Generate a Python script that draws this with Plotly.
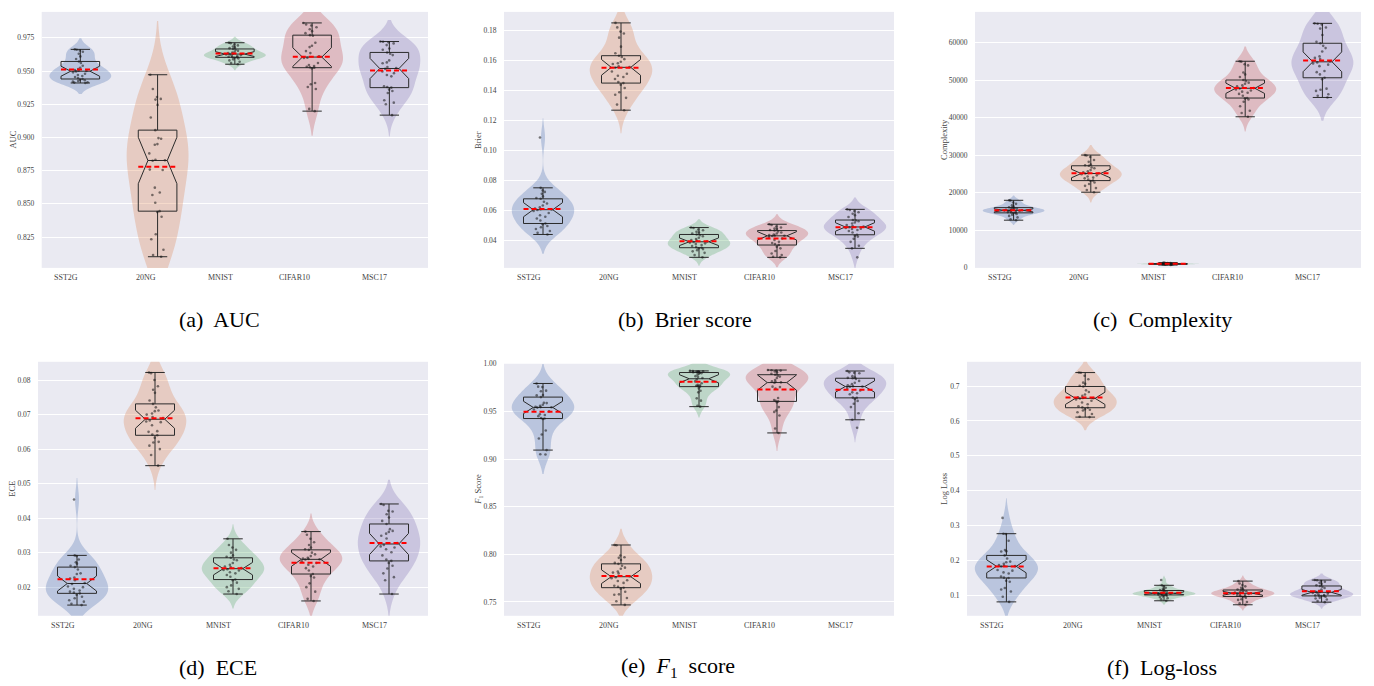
import numpy as np
import plotly.graph_objects as go

datasets = ["SST2G", "20NG", "MNIST", "CIFAR10", "MSC17"]

# ---------------- AUC ----------------
auc_sst2g = [0.9663, 0.9660, 0.9655, 0.9645, 0.9630, 0.9610, 0.9590, 0.9572, 0.9560, 0.9540,
             0.9525, 0.9515, 0.9508, 0.9503, 0.9500, 0.9497, 0.9490, 0.9480, 0.9470, 0.9462,
             0.9455, 0.9448, 0.9440, 0.9435, 0.9430, 0.9425, 0.9420, 0.9416, 0.9413, 0.9410]
auc_20ng = [0.9472, 0.9365, 0.9305, 0.9290, 0.9285, 0.9245, 0.9150, 0.9055, 0.8995, 0.8990,
            0.8950, 0.8945, 0.8880, 0.8832, 0.8828, 0.8825, 0.8758, 0.8755, 0.8622, 0.8585,
            0.8567, 0.8508, 0.8445, 0.8438, 0.8403, 0.8271, 0.8234, 0.8155, 0.8115, 0.8102]
auc_mnist = [0.9713, 0.9710, 0.9700, 0.9693, 0.9685, 0.9678, 0.9672, 0.9666, 0.9660, 0.9652,
             0.9645, 0.9640, 0.9635, 0.9630, 0.9628, 0.9627, 0.9625, 0.9620, 0.9615, 0.9612,
             0.9608, 0.9605, 0.9603, 0.9600, 0.9595, 0.9588, 0.9580, 0.9570, 0.9560, 0.9551]
auc_cifar10 = [0.9862, 0.9850, 0.9843, 0.9830, 0.9815, 0.9800, 0.9785, 0.9770, 0.9765, 0.9713,
               0.9690, 0.9680, 0.9650, 0.9635, 0.9610, 0.9600, 0.9598, 0.9560, 0.9545, 0.9538,
               0.9532, 0.9528, 0.9525, 0.9520, 0.9410, 0.9400, 0.9380, 0.9365, 0.9215, 0.9198]
auc_msc17 = [0.9722, 0.9720, 0.9716, 0.9708, 0.9695, 0.9670, 0.9660, 0.9640, 0.9630, 0.9620,
             0.9580, 0.9565, 0.9558, 0.9530, 0.9522, 0.9516, 0.9497, 0.9484, 0.9470, 0.9460,
             0.9385, 0.9380, 0.9375, 0.9360, 0.9350, 0.9335, 0.9280, 0.9262, 0.9250, 0.9168]

# ---------------- Brier ----------------
brier_sst2g = [0.1086, 0.0752, 0.0735, 0.0725, 0.0712, 0.0695, 0.0684, 0.0679, 0.0660, 0.0648,
               0.0635, 0.0622, 0.0615, 0.0610, 0.0608, 0.0605, 0.0598, 0.0585, 0.0570, 0.0560,
               0.0548, 0.0535, 0.0515, 0.0510, 0.0498, 0.0490, 0.0478, 0.0465, 0.0453, 0.0442]
brier_20ng = [0.1848, 0.1818, 0.1790, 0.1778, 0.1750, 0.1690, 0.1646, 0.1630, 0.1622, 0.1607,
              0.1590, 0.1580, 0.1575, 0.1560, 0.1555, 0.1550, 0.1525, 0.1510, 0.1497, 0.1488,
              0.1475, 0.1455, 0.1448, 0.1437, 0.1415, 0.1387, 0.1371, 0.1350, 0.1305, 0.1268]
brier_mnist = [0.0488, 0.0485, 0.0475, 0.0470, 0.0460, 0.0455, 0.0448, 0.0442, 0.0437, 0.0430,
               0.0420, 0.0412, 0.0405, 0.0400, 0.0395, 0.0392, 0.0388, 0.0383, 0.0378, 0.0372,
               0.0365, 0.0358, 0.0354, 0.0350, 0.0345, 0.0338, 0.0330, 0.0320, 0.0305, 0.0290]
brier_cifar10 = [0.0510, 0.0505, 0.0495, 0.0488, 0.0482, 0.0478, 0.0472, 0.0468, 0.0462, 0.0455,
                 0.0449, 0.0442, 0.0438, 0.0435, 0.0434, 0.0432, 0.0425, 0.0415, 0.0405, 0.0393,
                 0.0385, 0.0378, 0.0372, 0.0360, 0.0350, 0.0332, 0.0316, 0.0305, 0.0294, 0.0290]
brier_msc17 = [0.0609, 0.0605, 0.0598, 0.0590, 0.0580, 0.0570, 0.0558, 0.0538, 0.0535, 0.0530,
               0.0522, 0.0515, 0.0505, 0.0498, 0.0494, 0.0490, 0.0485, 0.0480, 0.0478, 0.0472,
               0.0465, 0.0455, 0.0440, 0.0433, 0.0428, 0.0413, 0.0393, 0.0367, 0.0350, 0.0290]

# ---------------- Complexity ----------------
cx_sst2g = [17950, 17900, 17350, 17000, 16600, 16300, 16100, 16000, 15850, 15700,
            15600, 15500, 15400, 15320, 15280, 15250, 15200, 15100, 15000, 14900,
            14800, 14700, 14600, 14550, 14300, 14100, 13800, 13400, 12900, 12650]
cx_20ng = [30000, 29900, 29500, 28700, 28200, 27500, 27300, 27150, 26700, 26500,
           26000, 25700, 25400, 25200, 25100, 25080, 24900, 24600, 24300, 24000,
           23800, 23500, 23200, 23100, 22700, 22300, 21800, 21200, 20700, 20100]
cx_mnist = [1350, 1300, 1250, 1200, 1180, 1150, 1120, 1100, 1080, 1060,
            1050, 1040, 1030, 1020, 1010, 1000, 990, 980, 970, 960,
            950, 940, 920, 900, 880, 860, 830, 800, 760, 700]
cx_cifar10 = [55000, 54900, 54200, 53900, 52000, 51500, 50800, 50000, 49700, 49300,
              49000, 48600, 48300, 48000, 47850, 47750, 47500, 47200, 46900, 46600,
              46300, 45800, 45200, 45100, 44800, 44200, 43000, 41800, 41200, 40200]
cx_msc17 = [65100, 65000, 64800, 64000, 63700, 62000, 60200, 59800, 59100, 58500,
            57600, 56300, 55900, 55600, 55000, 54700, 54400, 54100, 53700, 52400,
            52100, 51500, 50600, 50200, 47700, 47400, 47100, 46200, 45800, 45350]

# ---------------- ECE ----------------
ece_sst2g = [0.0454, 0.0292, 0.0290, 0.0280, 0.0272, 0.0268, 0.0262, 0.0258, 0.0251, 0.0240,
             0.0238, 0.0228, 0.0225, 0.0220, 0.0212, 0.0209, 0.0202, 0.0200, 0.0195, 0.0190,
             0.0187, 0.0184, 0.0182, 0.0178, 0.0172, 0.0168, 0.0162, 0.0158, 0.0152, 0.0148]
ece_20ng = [0.0822, 0.0820, 0.0800, 0.0782, 0.0772, 0.0763, 0.0741, 0.0731, 0.0721, 0.0712,
            0.0710, 0.0703, 0.0700, 0.0693, 0.0690, 0.0683, 0.0680, 0.0678, 0.0669, 0.0652,
            0.0650, 0.0642, 0.0640, 0.0633, 0.0621, 0.0619, 0.0610, 0.0600, 0.0583, 0.0552]
ece_mnist = [0.0340, 0.0322, 0.0315, 0.0308, 0.0300, 0.0292, 0.0288, 0.0285, 0.0280, 0.0278,
             0.0270, 0.0265, 0.0260, 0.0258, 0.0255, 0.0252, 0.0250, 0.0248, 0.0243, 0.0240,
             0.0235, 0.0230, 0.0222, 0.0220, 0.0213, 0.0205, 0.0200, 0.0195, 0.0188, 0.0180]
ece_cifar10 = [0.0361, 0.0352, 0.0340, 0.0330, 0.0322, 0.0315, 0.0310, 0.0308, 0.0300, 0.0295,
               0.0290, 0.0285, 0.0283, 0.0282, 0.0281, 0.0280, 0.0275, 0.0270, 0.0265, 0.0260,
               0.0255, 0.0248, 0.0238, 0.0232, 0.0228, 0.0211, 0.0200, 0.0187, 0.0166, 0.0160]
ece_msc17 = [0.0441, 0.0438, 0.0421, 0.0419, 0.0411, 0.0402, 0.0392, 0.0383, 0.0368, 0.0363,
             0.0360, 0.0355, 0.0349, 0.0341, 0.0328, 0.0322, 0.0318, 0.0315, 0.0310, 0.0301,
             0.0292, 0.0280, 0.0276, 0.0270, 0.0262, 0.0254, 0.0240, 0.0229, 0.0220, 0.0180]

# ---------------- F1 ----------------
f1_sst2g = [0.9793, 0.9760, 0.9755, 0.9718, 0.9712, 0.9672, 0.9668, 0.9650, 0.9590, 0.9587,
            0.9570, 0.9560, 0.9548, 0.9545, 0.9543, 0.9540, 0.9520, 0.9500, 0.9470, 0.9462,
            0.9450, 0.9430, 0.9425, 0.9420, 0.9300, 0.9257, 0.9215, 0.9094, 0.9050, 0.9048]
f1_20ng = [0.8098, 0.8095, 0.7987, 0.7970, 0.7963, 0.7940, 0.7910, 0.7900, 0.7880, 0.7860,
           0.7849, 0.7820, 0.7808, 0.7800, 0.7770, 0.7760, 0.7750, 0.7728, 0.7720, 0.7700,
           0.7670, 0.7660, 0.7650, 0.7640, 0.7607, 0.7580, 0.7575, 0.7542, 0.7507, 0.7469]
f1_mnist = [0.9925, 0.9924, 0.9922, 0.9920, 0.9918, 0.9915, 0.9912, 0.9908, 0.9905, 0.9900,
            0.9895, 0.9885, 0.9870, 0.9860, 0.9850, 0.9835, 0.9815, 0.9795, 0.9778, 0.9775,
            0.9770, 0.9765, 0.9760, 0.9740, 0.9716, 0.9700, 0.9637, 0.9613, 0.9560, 0.9550]
f1_cifar10 = [0.9934, 0.9932, 0.9930, 0.9928, 0.9920, 0.9910, 0.9895, 0.9885, 0.9875, 0.9865,
              0.9850, 0.9830, 0.9815, 0.9810, 0.9805, 0.9800, 0.9760, 0.9755, 0.9740, 0.9640,
              0.9620, 0.9612, 0.9605, 0.9595, 0.9545, 0.9510, 0.9495, 0.9457, 0.9320, 0.9274]
f1_msc17 = [0.9924, 0.9910, 0.9905, 0.9900, 0.9870, 0.9856, 0.9852, 0.9848, 0.9840, 0.9820,
            0.9800, 0.9786, 0.9775, 0.9765, 0.9762, 0.9760, 0.9745, 0.9720, 0.9700, 0.9690,
            0.9680, 0.9645, 0.9642, 0.9630, 0.9610, 0.9580, 0.9545, 0.9481, 0.9412, 0.9329]

# ---------------- Log-loss ----------------
ll_sst2g = [0.3216, 0.2762, 0.2750, 0.2560, 0.2290, 0.2260, 0.2250, 0.2138, 0.2050, 0.1960,
            0.1940, 0.1900, 0.1860, 0.1840, 0.1830, 0.1820, 0.1720, 0.1700, 0.1650, 0.1620,
            0.1530, 0.1500, 0.1490, 0.1410, 0.1380, 0.1200, 0.1160, 0.1100, 0.0950, 0.0803]
ll_20ng = [0.7390, 0.7385, 0.7300, 0.7200, 0.7100, 0.7070, 0.7010, 0.6990, 0.6880, 0.6830,
           0.6760, 0.6720, 0.6680, 0.6660, 0.6655, 0.6645, 0.6620, 0.6580, 0.6530, 0.6480,
           0.6420, 0.6390, 0.6380, 0.6340, 0.6320, 0.6300, 0.6250, 0.6200, 0.6120, 0.6111]
ll_mnist = [0.1430, 0.1280, 0.1250, 0.1210, 0.1180, 0.1150, 0.1140, 0.1130, 0.1110, 0.1090,
            0.1070, 0.1060, 0.1055, 0.1052, 0.1050, 0.1049, 0.1045, 0.1040, 0.1030, 0.1020,
            0.1010, 0.1005, 0.1002, 0.0995, 0.0980, 0.0960, 0.0940, 0.0910, 0.0880, 0.0835]
ll_cifar10 = [0.1400, 0.1330, 0.1290, 0.1250, 0.1210, 0.1180, 0.1160, 0.1145, 0.1130, 0.1110,
              0.1090, 0.1080, 0.1070, 0.1060, 0.1052, 0.1048, 0.1040, 0.1030, 0.1010, 0.1000,
              0.0990, 0.0970, 0.0958, 0.0950, 0.0920, 0.0880, 0.0860, 0.0800, 0.0760, 0.0720]
ll_msc17 = [0.1430, 0.1425, 0.1400, 0.1380, 0.1350, 0.1320, 0.1280, 0.1260, 0.1240, 0.1200,
            0.1160, 0.1120, 0.1100, 0.1090, 0.1080, 0.1075, 0.1060, 0.1040, 0.1020, 0.1000,
            0.0990, 0.0980, 0.0975, 0.0970, 0.0950, 0.0920, 0.0900, 0.0870, 0.0830, 0.0795]

# ---------------- styling / layout ----------------
W, H = 1374, 686
SERIF = "Liberation Serif, Times New Roman, serif"
violin_colors = ["rgba(76,114,176,0.3)", "rgba(221,132,82,0.3)", "rgba(85,168,104,0.3)",
                 "rgba(196,78,82,0.3)", "rgba(129,114,178,0.3)"]

panels = [
    dict(data=[auc_sst2g, auc_20ng, auc_mnist, auc_cifar10, auc_msc17], ylabel="AUC",
         caption="(a)  AUC", yrange=[0.8018, 0.9945], tick0=0.825, dtick=0.025, fmt=".3f",
         box=(41.7, 428, 8, 267), ylab_x=12.7, cap=(219.5, 319)),
    dict(data=[brier_sst2g, brier_20ng, brier_mnist, brier_cifar10, brier_msc17], ylabel="Brier",
         caption="(b)  Brier score", yrange=[0.0220, 0.1921], tick0=0.04, dtick=0.02, fmt=".2f",
         box=(504, 894, 8, 267), ylab_x=478, cap=(685, 319)),
    dict(data=[cx_sst2g, cx_20ng, cx_mnist, cx_cifar10, cx_msc17], ylabel="Complexity",
         caption="(c)  Complexity", yrange=[-60, 68150], tick0=0, dtick=10000, fmt="d",
         box=(975, 1361, 8, 267), ylab_x=944, cap=(1162, 319)),
    dict(data=[ece_sst2g, ece_20ng, ece_mnist, ece_cifar10, ece_msc17], ylabel="ECE",
         caption="(d)  ECE", yrange=[0.0117, 0.0853], tick0=0.02, dtick=0.01, fmt=".2f",
         box=(38, 428, 362, 619), ylab_x=12, cap=(217.5, 671)),
    dict(data=[f1_sst2g, f1_20ng, f1_mnist, f1_cifar10, f1_msc17], ylabel="<i>F</i><sub>1</sub> Score",
         caption="(e)  <i>F</i><sub>1</sub>  score", yrange=[0.7355, 1.0], tick0=0.75, dtick=0.05, fmt=".2f",
         box=(504, 894, 364, 619), ylab_x=479, cap=(678, 671)),
    dict(data=[ll_sst2g, ll_20ng, ll_mnist, ll_cifar10, ll_msc17], ylabel="Log Loss",
         caption="(f)  Log-loss", yrange=[0.0404, 0.770], tick0=0.1, dtick=0.1, fmt=".1f",
         box=(967, 1361, 362, 619), ylab_x=944, cap=(1162, 671)),
]

fig = go.Figure()
annotations = []
layout_axes = {}

for k, p in enumerate(panels):
    suffix = "" if k == 0 else str(k + 1)
    xa, ya = "x" + suffix, "y" + suffix
    x0, x1, y0, y1 = p["box"]
    for i, vals in enumerate(p["data"]):
        v = np.asarray(vals, dtype=float)
        n = len(v)
        bw = np.std(v, ddof=1) * n ** (-0.2)  # Scott's rule, like seaborn
        fig.add_trace(go.Violin(
            x=[i] * n, y=v, xaxis=xa, yaxis=ya, width=0.8, scalemode="width",
            spanmode="soft", bandwidth=bw, fillcolor=violin_colors[i],
            line=dict(width=0, color="rgba(0,0,0,0)"), points=False,
            box=dict(visible=False), meanline=dict(visible=False),
            showlegend=False, hoverinfo="skip"))
        fig.add_trace(go.Box(
            x=[i] * n, y=v, xaxis=xa, yaxis=ya, notched=True, width=0.5,
            whiskerwidth=0.5, fillcolor="rgba(0,0,0,0)",
            line=dict(color="#2b2b2b", width=1), boxpoints="all", jitter=0.5,
            pointpos=0, marker=dict(color="rgba(20,20,20,0.55)", size=2.6),
            showlegend=False, hoverinfo="skip"))
        m = float(v.mean())
        fig.add_trace(go.Scatter(
            x=[i - 0.25, i + 0.25], y=[m, m], xaxis=xa, yaxis=ya, mode="lines",
            line=dict(color="red", width=2, dash="5px,3px"), showlegend=False,
            hoverinfo="skip"))
        annotations.append(dict(
            x=i, xref=xa, y=0, yref=ya + " domain", yshift=-10, text=datasets[i],
            showarrow=False, xanchor="right", yanchor="middle",
            font=dict(family=SERIF, size=8, color="#444")))

    layout_axes["xaxis" + suffix] = dict(
        domain=[x0 / W, x1 / W], range=[-0.5, 4.5], type="linear", showgrid=False,
        zeroline=False, showticklabels=False, showline=False, anchor=ya, fixedrange=True)
    layout_axes["yaxis" + suffix] = dict(
        domain=[1 - y1 / H, 1 - y0 / H], range=p["yrange"], tick0=p["tick0"],
        dtick=p["dtick"], tickformat=p["fmt"], showgrid=True, gridcolor="white",
        gridwidth=1.2, zeroline=False, showline=False, ticks="outside", ticklen=5,
        tickcolor="rgba(0,0,0,0)", tickfont=dict(family=SERIF, size=7.5, color="#444"),
        anchor=xa, fixedrange=True)

    annotations.append(dict(
        x=p["ylab_x"] / W, xref="paper", y=1 - ((y0 + y1) / 2) / H, yref="paper",
        text=p["ylabel"], textangle=-90, showarrow=False, xanchor="center",
        yanchor="middle", font=dict(family=SERIF, size=8.5, color="#444")))
    annotations.append(dict(
        x=p["cap"][0] / W, xref="paper", y=1 - p["cap"][1] / H, yref="paper",
        text=p["caption"], showarrow=False, xanchor="center", yanchor="middle",
        font=dict(family=SERIF, size=22, color="black")))

fig.update_layout(
    width=W, height=H, margin=dict(l=0, r=0, t=0, b=0),
    paper_bgcolor="white", plot_bgcolor="#EAEAF2",
    violinmode="overlay", boxmode="overlay", showlegend=False,
    annotations=annotations, **layout_axes)

fig.write_html("out.html")
